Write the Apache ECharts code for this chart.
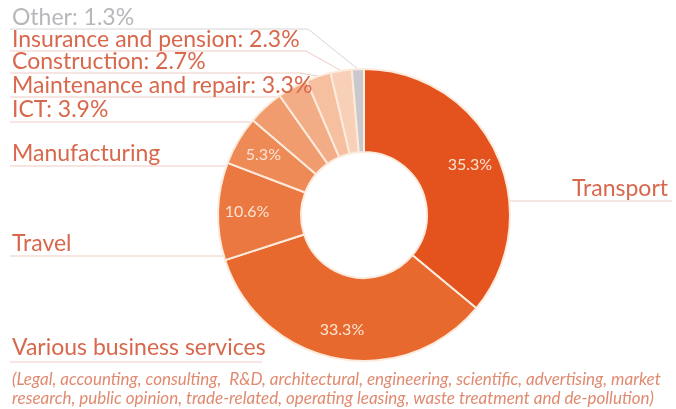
<!DOCTYPE html>
<html>
<head>
<meta charset="utf-8">
<script src="https://cdn.jsdelivr.net/npm/echarts@6/dist/echarts.min.js"></script>
<style>
  html, body { margin: 0; padding: 0; background: #fff; }
  #chart { width: 676px; height: 409px; }
</style>
</head>
<body>
<div id="chart"></div>
<script>
// ---- data ----
const categories = ["Transport", "Various business services", "Travel", "Manufacturing", "ICT",
  "Maintenance and repair", "Construction", "Insurance and pension", "Other"];
const shares = [35.3, 33.3, 10.6, 5.3, 3.9, 3.3, 2.7, 2.3, 1.3];
const showValueInLabel = [false, false, false, false, true, true, true, true, true];
const showValueInside = [true, true, true, true, false, false, false, false, false];
const footnoteLines = [
  "(Legal, accounting, consulting,  R&D, architectural, engineering, scientific, advertising, market",
  "research, public opinion, trade-related, operating leasing, waste treatment and de-pollution)"
];

// ---- style / layout ----
const sliceColors = ["#E4531E", "#E8692E", "#EA7840", "#ED8A55", "#F09C6E", "#F3AD86", "#F5BFA0", "#F8D0B8", "#C9C9CD"];
const labelColors = ["#D8684C", "#D8684C", "#D8684C", "#D8684C", "#D8684C", "#D8684C", "#D8684C", "#D8684C", "#B8B8BC"];
const lineColors = ["#EDCBC2", "#EDCBC2", "#EDCBC2", "#EDCBC2", "#EDCBC2", "#EDCBC2", "#EDCBC2", "#EDCBC2", "#D6D6D8"];
const CX = 364, CY = 215, R0 = 63, R = 146;
// text anchor (x, center y), underline y, underline far end x, mode
const labelSpots = [
  { x: 572, y: 189, uy: 201, end: 672, mode: "edgeRight" },
  { x: 12, y: 348, uy: 362, end: 10, mode: "flat", stop: 262 },
  { x: 12, y: 244, uy: 256, end: 10, mode: "edge" },
  { x: 12, y: 154, uy: 166, end: 10, mode: "edge" },
  { x: 12, y: 110, uy: 122, end: 10, mode: "edge" },
  { x: 12, y: 86, uy: 97, end: 10, mode: "edge" },
  { x: 12, y: 62, uy: 73, end: 10, mode: "diag", elbow: 300 },
  { x: 12, y: 40, uy: 51, end: 10, mode: "diag", elbow: 306 },
  { x: 12, y: 18, uy: 29, end: 10, mode: "diag", elbow: 308 }
];

const outerData = categories.map((c, i) => ({
  name: c, value: shares[i],
  itemStyle: { color: sliceColors[i] },
  label: { color: labelColors[i] },
  labelLine: { lineStyle: { color: lineColors[i] } }
}));
const innerData = categories.map((c, i) => ({
  name: c, value: shares[i],
  label: { show: showValueInside[i] }
}));

const chart = echarts.init(document.getElementById('chart'), null, { renderer: 'canvas' });
chart.setOption({
  animation: false,
  backgroundColor: '#ffffff',
  series: [
    {
      type: 'pie',
      center: [CX, CY],
      radius: [R0, R],
      startAngle: 90,
      clockwise: true,
      avoidLabelOverlap: false,
      itemStyle: { borderColor: '#FCEBDD', borderWidth: 2 },
      label: {
        show: true,
        position: 'outside',
        fontFamily: 'Lato',
        fontSize: 23,
        formatter: p => showValueInLabel[p.dataIndex] ? p.name + ': ' + shares[p.dataIndex] + '%' : p.name
      },
      labelLine: { show: true, length: 10, length2: 10, smooth: false, lineStyle: { width: 1 } },
      labelLayout: function (params) {
        const s = labelSpots[params.dataIndex];
        const mid = params.labelLinePoints ? params.labelLinePoints[0] : [CX, CY - R];
        let pts;
        if (s.mode === 'edgeRight') {
          const ex = CX + Math.sqrt(R * R - (s.uy - CY) * (s.uy - CY));
          pts = [[ex, s.uy], [s.x, s.uy], [s.end, s.uy]];
        } else if (s.mode === 'edge') {
          const ex = CX - Math.sqrt(R * R - (s.uy - CY) * (s.uy - CY));
          pts = [[ex, s.uy], [s.x + 5, s.uy], [s.end, s.uy]];
        } else if (s.mode === 'flat') {
          pts = [[s.stop, s.uy], [s.x + 5, s.uy], [s.end, s.uy]];
        } else {
          pts = [[mid[0], mid[1]], [s.elbow, s.uy], [s.end, s.uy]];
        }
        return {
          x: s.x, y: s.y, align: 'left', verticalAlign: 'middle',
          labelLinePoints: pts
        };
      },
      data: outerData
    },
    {
      type: 'pie',
      center: [CX, CY],
      radius: [82, R],
      startAngle: 90,
      clockwise: true,
      silent: true,
      itemStyle: { color: 'rgba(0,0,0,0)' },
      label: {
        show: true,
        position: 'inside',
        fontFamily: 'Lato',
        fontSize: 16,
        color: '#FCE4D4',
        formatter: p => shares[p.dataIndex] + '%'
      },
      labelLine: { show: false },
      data: innerData
    }
  ],
  graphic: footnoteLines.map((t, i) => ({
    type: 'text',
    left: 12,
    top: 371 + i * 19,
    style: {
      text: t,
      fill: '#E08A70',
      font: 'italic 17px Lato'
    }
  }))
});
</script>
</body>
</html>
